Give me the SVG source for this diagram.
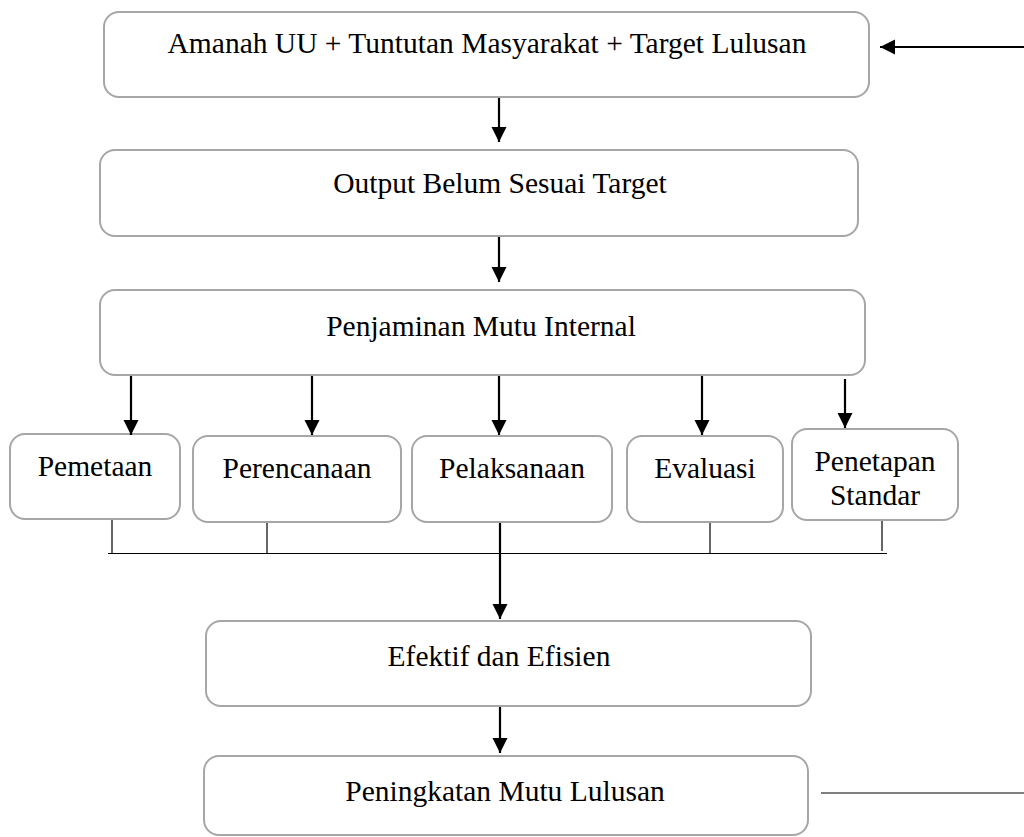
<svg xmlns="http://www.w3.org/2000/svg" width="1024" height="837" viewBox="0 0 1024 837">
<style>
.box{fill:#fff;stroke:#a6a6a6;stroke-width:2}
.lbl{font-family:"Liberation Serif","Times New Roman",serif;font-size:29.5px;fill:#000;text-anchor:middle}
.arr{stroke:#000;stroke-width:2.2;fill:none;marker-end:url(#ah)}
.thin{stroke:#000;stroke-width:1.2;fill:none}
</style>
<defs>
<marker id="ah" markerUnits="userSpaceOnUse" markerWidth="16" markerHeight="16" refX="15" refY="7.5" orient="auto">
<path d="M0,0 L15,7.5 L0,15 z" fill="#000"/>
</marker>
</defs>
<rect width="1024" height="837" fill="#fff"/>
<g id="n-amanah"><rect class="box" x="104" y="12" width="765" height="85" rx="15"/><text class="lbl" x="487" y="53">Amanah UU + Tuntutan Masyarakat + Target Lulusan</text></g>
<g id="n-output"><rect class="box" x="100" y="150" width="758" height="86" rx="15"/><text class="lbl" x="500" y="193">Output Belum Sesuai Target</text></g>
<g id="n-pmi"><rect class="box" x="100" y="290" width="765" height="85" rx="15"/><text class="lbl" x="481" y="336">Penjaminan Mutu Internal</text></g>
<g id="n-pemetaan"><rect class="box" x="10" y="434" width="170" height="85" rx="15"/><text class="lbl" x="95" y="476">Pemetaan</text></g>
<g id="n-perencanaan"><rect class="box" x="193" y="436" width="208" height="86" rx="15"/><text class="lbl" x="297" y="478">Perencanaan</text></g>
<g id="n-pelaksanaan"><rect class="box" x="412" y="436" width="200" height="86" rx="15"/><text class="lbl" x="512" y="478">Pelaksanaan</text></g>
<g id="n-evaluasi"><rect class="box" x="627" y="436" width="156" height="86" rx="15"/><text class="lbl" x="705" y="478">Evaluasi</text></g>
<g id="n-penetapan"><rect class="box" x="792" y="429" width="166" height="91" rx="15"/><text class="lbl" x="875" y="471">Penetapan</text><text class="lbl" x="875" y="505">Standar</text></g>
<g id="n-efektif"><rect class="box" x="206" y="621" width="605" height="85" rx="15"/><text class="lbl" x="499" y="666">Efektif dan Efisien</text></g>
<g id="n-peningkatan"><rect class="box" x="204" y="756" width="604" height="79" rx="15"/><text class="lbl" x="505" y="801">Peningkatan Mutu Lulusan</text></g>
<g id="connectors">
<line class="arr" x1="1024" y1="47" x2="880" y2="47"/>
<line class="arr" x1="499" y1="98" x2="499" y2="142"/>
<line class="arr" x1="499" y1="237" x2="499" y2="282"/>
<line class="arr" x1="131" y1="376" x2="131" y2="435"/>
<line class="arr" x1="312" y1="376" x2="312" y2="435"/>
<line class="arr" x1="499" y1="376" x2="499" y2="435"/>
<line class="arr" x1="702" y1="376" x2="702" y2="435"/>
<line class="arr" x1="845" y1="379" x2="845" y2="428"/>
<line class="thin" x1="108" y1="553.5" x2="887" y2="553.5"/>
<line class="thin" x1="112" y1="520" x2="112" y2="553"/>
<line class="thin" x1="267" y1="523" x2="267" y2="553"/>
<line class="thin" x1="710" y1="523" x2="710" y2="553"/>
<line class="thin" x1="882" y1="521" x2="882" y2="551"/>
<line class="arr" x1="500" y1="523" x2="500" y2="619"/>
<line class="arr" x1="500" y1="707" x2="500" y2="753"/>
<line class="thin" x1="821" y1="793" x2="1024" y2="793"/>
</g>
</svg>
